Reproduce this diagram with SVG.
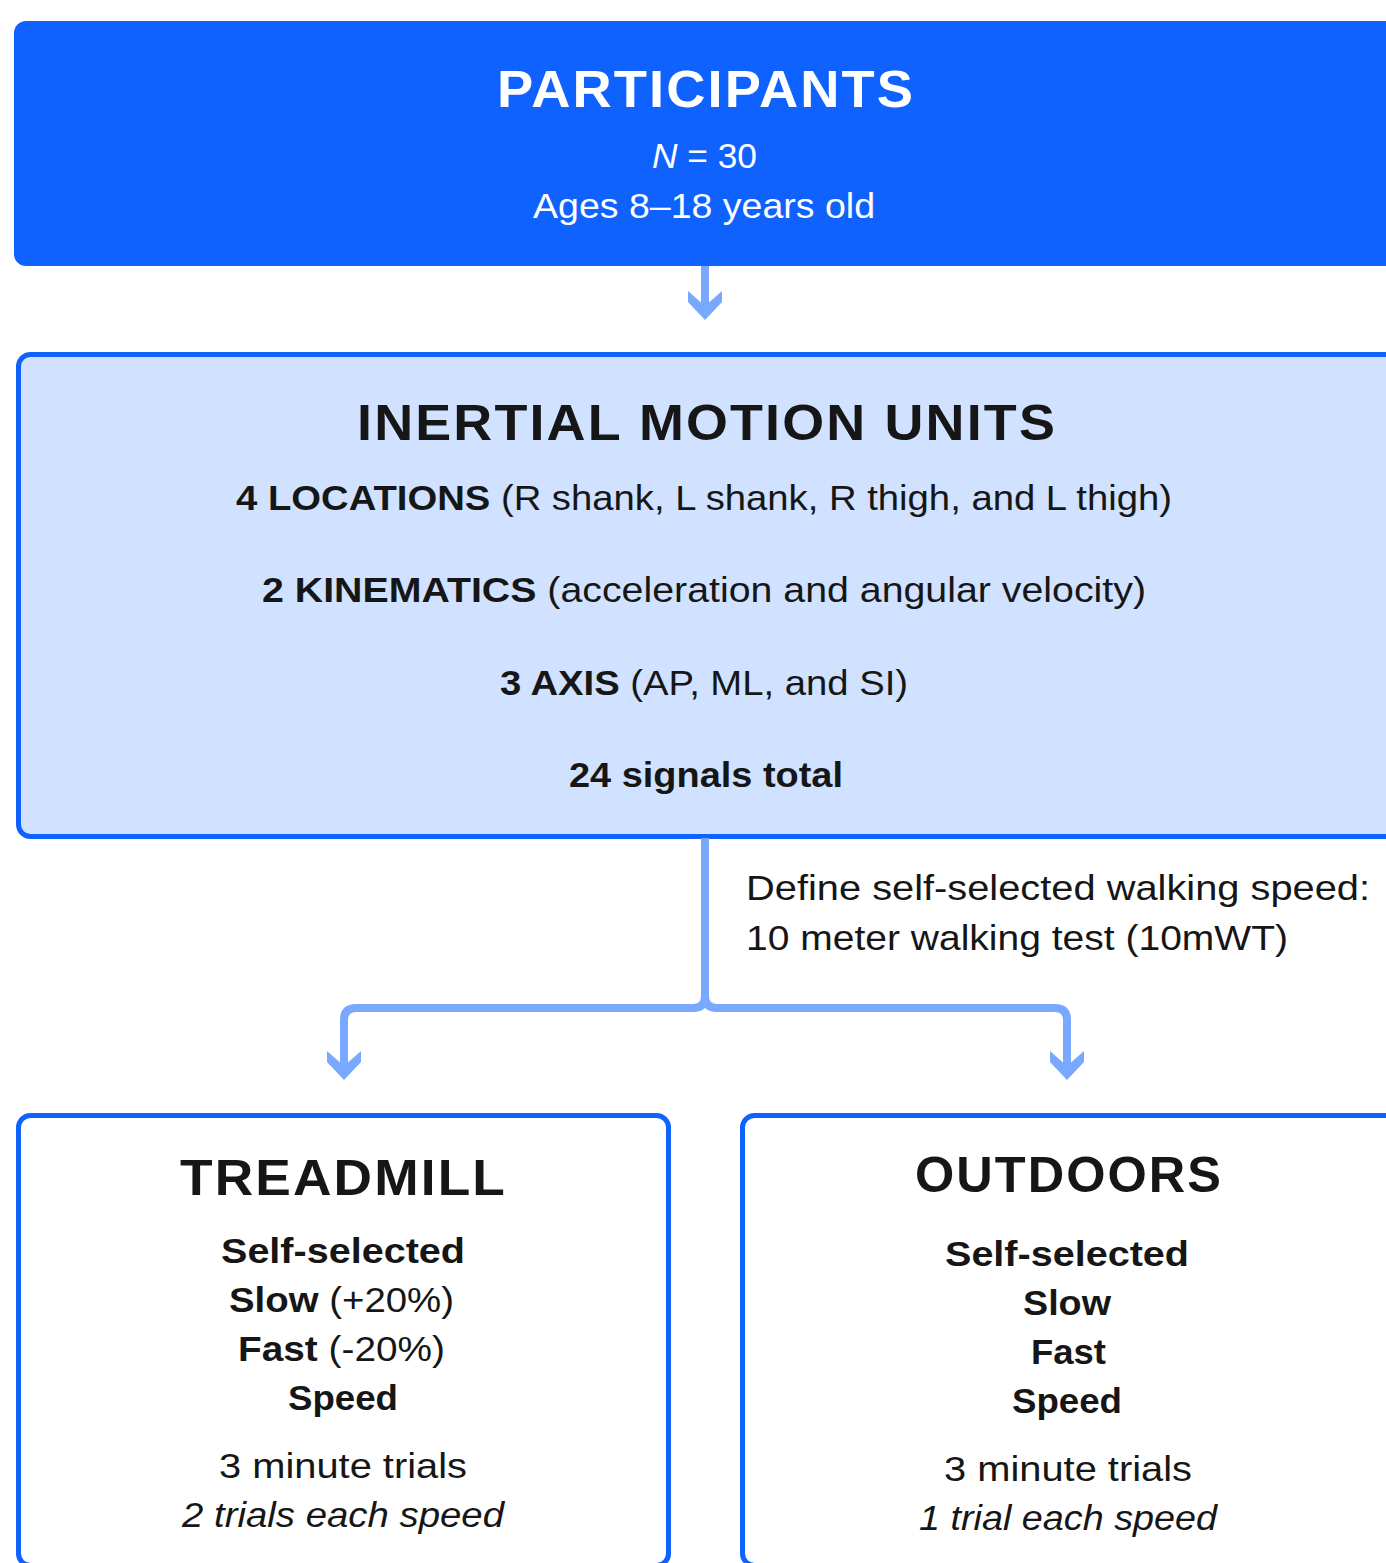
<svg xmlns="http://www.w3.org/2000/svg" xmlns:xlink="http://www.w3.org/1999/xlink" width="1386" height="1563" viewBox="0 0 1386 1563">
  <style>
    .t { font-family: "Liberation Sans", Arial, sans-serif; fill: #161616; text-anchor: middle; }
    .s { text-anchor: start; }
    .w { fill: #ffffff; }
    .b { font-weight: bold; }
    .i { font-style: italic; }
    .h { font-weight: bold; letter-spacing: 2px; }
    .conn { fill: none; stroke: #78a9ff; stroke-width: 8; }
    .ah { fill: #78a9ff; }
    .box { stroke: #0f62fe; stroke-width: 5; }
  </style>
  <defs>
    <path id="ah" d="M-17,-29 L0,-14 L17,-29 L17,-18 L0,0 L-17,-18 Z"/>
  </defs>
  <rect width="1386" height="1563" fill="#ffffff"/>

  <g id="participants">
    <rect x="14" y="21" width="1400" height="245" rx="12" fill="#0f62fe"/>
    <text class="t w h" x="706" y="107" font-size="52" textLength="418" lengthAdjust="spacingAndGlyphs">PARTICIPANTS</text>
    <text class="t w" x="704.5" y="168" font-size="35" textLength="105" lengthAdjust="spacingAndGlyphs"><tspan class="i">N</tspan> = 30</text>
    <text class="t w" x="704" y="218" font-size="35" textLength="342" lengthAdjust="spacingAndGlyphs">Ages 8–18 years old</text>
  </g>

  <g id="imu">
    <rect class="box" x="18.5" y="354.5" width="1400" height="482" rx="12" fill="#d0e2ff"/>
    <text class="t h" x="707" y="440" font-size="50" textLength="700" lengthAdjust="spacingAndGlyphs">INERTIAL MOTION UNITS</text>
    <text class="t" x="704" y="510" font-size="35" textLength="936" lengthAdjust="spacingAndGlyphs"><tspan class="b">4 LOCATIONS</tspan> (R shank, L shank, R thigh, and L thigh)</text>
    <text class="t" x="704" y="602" font-size="35" textLength="884" lengthAdjust="spacingAndGlyphs"><tspan class="b">2 KINEMATICS</tspan> (acceleration and angular velocity)</text>
    <text class="t" x="704" y="695" font-size="35" textLength="408" lengthAdjust="spacingAndGlyphs"><tspan class="b">3 AXIS</tspan> (AP, ML, and SI)</text>
    <text class="t b" x="706" y="787" font-size="35" textLength="274" lengthAdjust="spacingAndGlyphs">24 signals total</text>
  </g>

  <g id="treadmill">
    <rect class="box" x="18.5" y="1115.5" width="650" height="450" rx="12" fill="#ffffff"/>
    <text class="t h" x="343.5" y="1195" font-size="50" textLength="327" lengthAdjust="spacingAndGlyphs">TREADMILL</text>
    <text class="t b" x="343" y="1263" font-size="35" textLength="244" lengthAdjust="spacingAndGlyphs">Self-selected</text>
    <text class="t" x="341.5" y="1312" font-size="35" textLength="225" lengthAdjust="spacingAndGlyphs"><tspan class="b">Slow</tspan> (+20%)</text>
    <text class="t" x="341.5" y="1361" font-size="35" textLength="207" lengthAdjust="spacingAndGlyphs"><tspan class="b">Fast</tspan> (-20%)</text>
    <text class="t b" x="343" y="1410" font-size="35" textLength="110" lengthAdjust="spacingAndGlyphs">Speed</text>
    <text class="t" x="343" y="1478" font-size="35" textLength="248" lengthAdjust="spacingAndGlyphs">3 minute trials</text>
    <text class="t i" x="343" y="1527" font-size="35" textLength="322" lengthAdjust="spacingAndGlyphs">2 trials each speed</text>
  </g>

  <g id="outdoors">
    <rect class="box" x="742.5" y="1115.5" width="700" height="450" rx="12" fill="#ffffff"/>
    <text class="t h" x="1069" y="1192" font-size="50" textLength="308" lengthAdjust="spacingAndGlyphs">OUTDOORS</text>
    <text class="t b" x="1067" y="1266" font-size="35" textLength="244" lengthAdjust="spacingAndGlyphs">Self-selected</text>
    <text class="t b" x="1067" y="1315" font-size="35" textLength="88" lengthAdjust="spacingAndGlyphs">Slow</text>
    <text class="t b" x="1068.5" y="1364" font-size="35" textLength="75" lengthAdjust="spacingAndGlyphs">Fast</text>
    <text class="t b" x="1067" y="1413" font-size="35" textLength="110" lengthAdjust="spacingAndGlyphs">Speed</text>
    <text class="t" x="1068" y="1481" font-size="35" textLength="248" lengthAdjust="spacingAndGlyphs">3 minute trials</text>
    <text class="t i" x="1068" y="1530" font-size="35" textLength="298" lengthAdjust="spacingAndGlyphs">1 trial each speed</text>
  </g>

  <g id="connectors">
    <path class="conn" d="M705,266 V308" stroke-width="10"/>
    <use href="#ah" class="ah" x="705" y="320"/>
    <path class="conn" d="M705,838 V996 Q705,1008 693,1008 H356 Q344,1008 344,1020 V1068"/>
    <path class="conn" d="M705,996 Q705,1008 717,1008 H1055 Q1067,1008 1067,1020 V1068"/>
    <use href="#ah" class="ah" x="344" y="1080"/>
    <use href="#ah" class="ah" x="1067" y="1080"/>
    <text class="t s" x="746" y="900" font-size="35" textLength="624" lengthAdjust="spacingAndGlyphs">Define self-selected walking speed:</text>
    <text class="t s" x="746" y="950" font-size="35" textLength="542" lengthAdjust="spacingAndGlyphs">10 meter walking test (10mWT)</text>
  </g>
</svg>
